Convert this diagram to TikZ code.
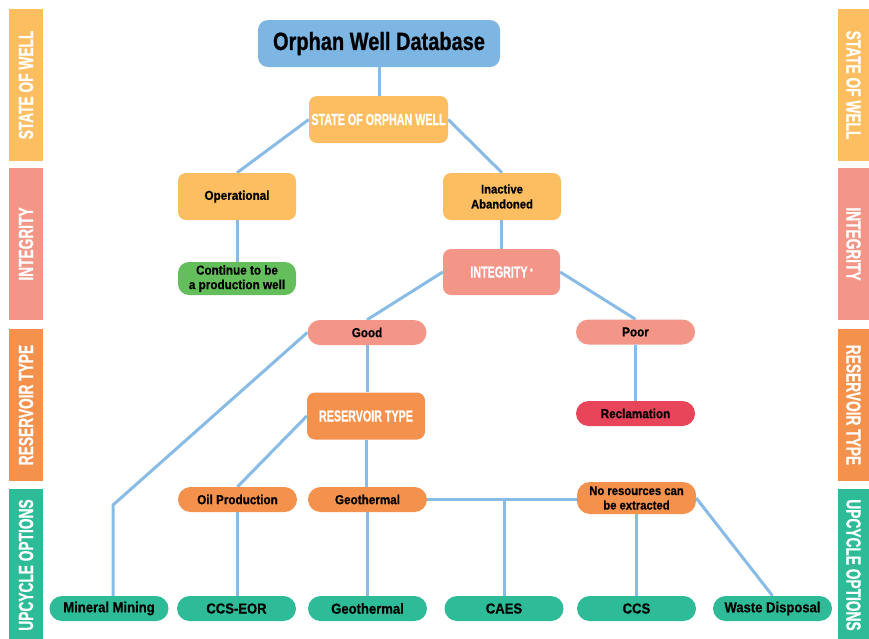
\documentclass[tikz,border=0pt]{standalone}
\usepackage{fontspec}
\newfontfamily\capf{Liberation Sans Bold}[FakeStretch=0.67,FakeBold=0.6]
\newfontfamily\dbf{Liberation Sans Bold}[FakeStretch=0.8,FakeBold=0.8]
\newfontfamily\smf{Liberation Sans Bold}[FakeStretch=0.9,FakeBold=0.5]
\usetikzlibrary{backgrounds}
\definecolor{cblue}{HTML}{7DB5E3}
\definecolor{cstate}{HTML}{FCBE60}
\definecolor{cinteg}{HTML}{F39587}
\definecolor{cres}{HTML}{F4914D}
\definecolor{cup}{HTML}{2EBB98}
\definecolor{cgreen}{HTML}{63BE5B}
\definecolor{cred}{HTML}{E8455A}
\definecolor{cline}{HTML}{88BBE5}
\tikzset{
  box/.style={rounded corners=8pt, inner sep=0pt, minimum width=118pt, minimum height=47pt, align=center},
  pill/.style={rounded corners=12.5pt, inner sep=0pt, minimum width=119pt, minimum height=25pt, align=center, font=\smf\fontsize{13}{14}\selectfont},
  bot/.style={pill, fill=cup, font=\smf\fontsize{14.5}{15}\selectfont},
  conn/.style={draw=cline, line width=3pt},
  lbar/.style={rotate=90, minimum width=152pt, minimum height=34pt, inner sep=0pt, text=white, font=\capf\fontsize{20.5}{21}\selectfont},
  rbar/.style={rotate=-90, minimum width=152pt, minimum height=31pt, inner sep=0pt, text=white, font=\capf\fontsize{20.5}{21}\selectfont}
}
\begin{document}
\begin{tikzpicture}[x=1pt,y=-1pt]
\useasboundingbox (0,0) rectangle (869,638);
% side bars
\node[lbar, fill=cstate] (ls) at (26,85) {STATE OF WELL};
\node[lbar, fill=cinteg] (li) at (26,244) {INTEGRITY};
\node[lbar, fill=cres] (lr) at (26,405) {RESERVOIR TYPE};
\node[lbar, fill=cup] (lu) at (26,565) {UPCYCLE OPTIONS};
\node[rbar, fill=cstate] (rs) at (853.5,85) {STATE OF WELL};
\node[rbar, fill=cinteg] (ri) at (853.5,244) {INTEGRITY};
\node[rbar, fill=cres] (rr) at (853.5,405) {RESERVOIR TYPE};
\node[rbar, fill=cup] (ru) at (853.5,565) {UPCYCLE OPTIONS};
% main nodes
\node[box, fill=cblue, minimum width=242pt, rounded corners=10pt, font=\dbf\fontsize{25}{26}\selectfont] (db) at (379,43.5) {Orphan Well Database};
\node[box, fill=cstate, minimum width=139pt, text=white, font=\capf\fontsize{16}{17}\selectfont] (st) at (378.5,119.5) {STATE OF ORPHAN WELL};
\node[box, fill=cstate, font=\smf\fontsize{13}{14}\selectfont] (op) at (237,196.5) {Operational};
\node[box, fill=cstate, font=\smf\fontsize{12.5}{15}\selectfont] (ia) at (502,196.5) {Inactive\\Abandoned};
\node[box, fill=cgreen, minimum height=33pt, rounded corners=11pt, font=\smf\fontsize{13}{14.5}\selectfont] (cp) at (237,278.5) {Continue to be\\a production well};
\node[box, fill=cinteg, minimum width=117pt, minimum height=46pt, text=white, font=\capf\fontsize{16}{17}\selectfont] (ig) at (501.5,272) {INTEGRITY\,\raisebox{3pt}{\fontsize{9}{9}\selectfont*}};
\node[pill, fill=cinteg] (gd) at (367,332.5) {Good};
\node[pill, fill=cinteg] (pr) at (635.5,332) {Poor};
\node[box, fill=cres, text=white, font=\capf\fontsize{16}{17}\selectfont] (rt) at (366,416) {RESERVOIR TYPE};
\node[pill, fill=cred] (rc) at (635.5,413.5) {Reclamation};
\node[pill, fill=cres] (oil) at (237.5,499.5) {Oil Production};
\node[pill, fill=cres] (geo) at (367.5,499.5) {Geothermal};
\node[pill, fill=cres, minimum height=32pt, rounded corners=13pt, font=\smf\fontsize{12.5}{14.5}\selectfont] (nr) at (636.5,498) {No resources can\\be extracted};
% bottom row
\node[bot] (mm) at (109,608.5) {Mineral Mining};
\node[bot] (ccseor) at (236.5,608.5) {CCS-EOR};
\node[bot] (geob) at (367.5,608.5) {Geothermal};
\node[bot] (caes) at (504,608.5) {CAES};
\node[bot] (ccs) at (636.5,608.5) {CCS};
\node[bot] (wd) at (772.5,608.5) {Waste Disposal};
\coordinate (bend) at (113,505);
% connectors
\begin{scope}[on background layer]
\draw[conn] (db.south) -- (db.south |- st.north);
\draw[conn] (st.west) -- (op.north);
\draw[conn] (st.east) -- (ia.north);
\draw[conn] (op.south) -- (op.south |- cp.north);
\draw[conn] (ig.north) -- (ig.north |- ia.south);
\draw[conn] (ig.west) -- (gd.north);
\draw[conn] (ig.east) -- (pr.north);
\draw[conn] (gd.south) -- (gd.south |- rt.north);
\draw[conn] (pr.south) -- (pr.south |- rc.north);
\draw[conn] (gd.west) -- (bend) -- (bend |- mm.north);
\draw[conn] (rt.west) -- (oil.north);
\draw[conn] (rt.south) -- (rt.south |- geo.north);
\draw[conn] (geo.east) -- (geo.east -| nr.west);
\draw[conn] (caes.north |- geo.east) -- (caes.north);
\draw[conn] (oil.south) -- (oil.south |- ccseor.north);
\draw[conn] (geo.south) -- (geo.south |- geob.north);
\draw[conn] (nr.south) -- (nr.south |- ccs.north);
\draw[conn] (nr.east) -- (wd.north);
\end{scope}
\end{tikzpicture}
\end{document}
